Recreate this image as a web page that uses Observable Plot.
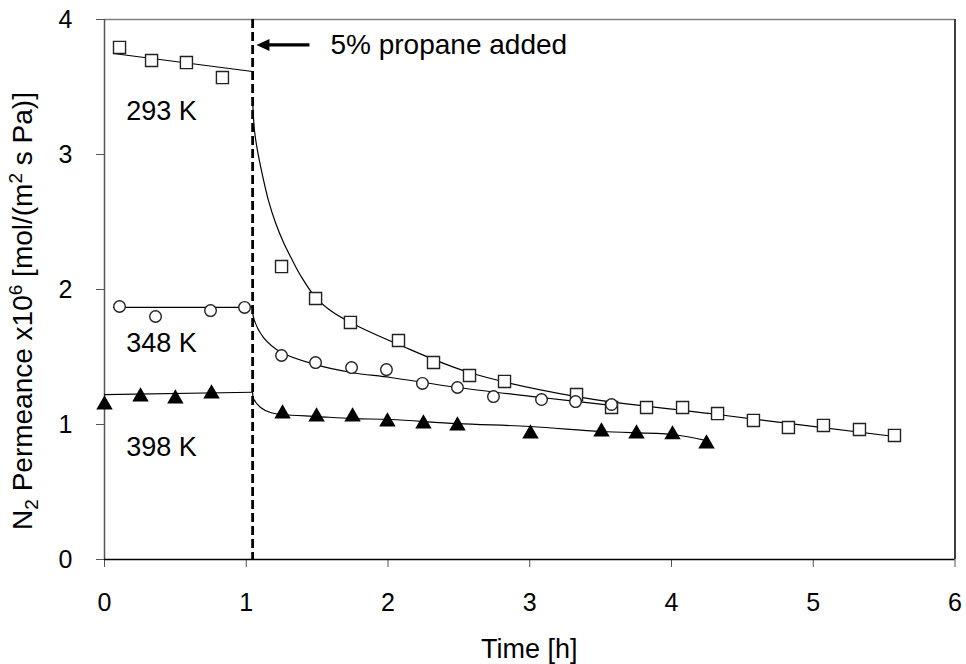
<!DOCTYPE html>
<html><head><meta charset="utf-8">
<script src="https://cdn.jsdelivr.net/npm/d3@7"></script>
<script src="https://cdn.jsdelivr.net/npm/@observablehq/plot@0.6"></script>
<style>
body{margin:0;background:#fff}
svg{font-family:"Liberation Sans",Arial,sans-serif}
</style>
</head><body><div id="chart"></div>
<script>
// ---- axis ticks ----
const xTicks = [0, 1, 2, 3, 4, 5, 6];
const yTicks = [0, 1, 2, 3, 4];
const propaneTime = 1.045;

// ---- measured points ----
const time293 = [0.106,0.332,0.578,0.832,1.249,1.489,1.735,2.074,2.321,2.575,2.822,3.330,3.577,3.824,4.078,4.325,4.578,4.825,5.072,5.326,5.573];
const perm293 = [3.793,3.696,3.681,3.570,2.170,1.933,1.756,1.622,1.459,1.363,1.319,1.222,1.126,1.126,1.126,1.081,1.030,0.978,0.993,0.963,0.919];

const time348 = [0.106,0.360,0.748,0.988,1.249,1.489,1.743,1.989,2.243,2.490,2.744,3.083,3.323,3.577];
const perm348 = [1.874,1.800,1.844,1.867,1.511,1.459,1.422,1.407,1.304,1.274,1.207,1.185,1.170,1.148];

const time398 = [0.000,0.254,0.500,0.755,1.256,1.496,1.750,1.996,2.250,2.490,3.005,3.506,3.753,4.007,4.247];
const perm398 = [1.147,1.206,1.191,1.228,1.080,1.058,1.058,1.021,1.006,0.991,0.932,0.947,0.932,0.925,0.858];

// ---- fitted trend lines ----
const fit293BeforeT = [0.063,1.044];
const fit293BeforeP = [3.748,3.615];
const fit293AfterT = [1.045,1.058,1.079,1.115,1.157,1.206,1.263,1.326,1.383,1.489,1.594,1.735,2.074,2.575,3.330,4.325,5.573];
const fit293AfterP = [3.400,3.178,3.030,2.844,2.659,2.496,2.348,2.215,2.104,1.941,1.844,1.756,1.593,1.385,1.207,1.074,0.911];

const fit348BeforeT = [0.063,1.044];
const fit348BeforeP = [1.867,1.867];
const fit348AfterT = [1.045,1.051,1.122,1.249,1.489,1.743,2.018,2.490,3.083,3.577];
const fit348AfterP = [1.881,1.793,1.644,1.533,1.444,1.385,1.348,1.274,1.200,1.141];

const fit398BeforeT = [0.000,1.044];
const fit398BeforeP = [1.222,1.239];
const fit398AfterT = [1.045,1.051,1.101,1.171,1.256,1.503,1.750,2.018,2.490,3.005,3.506,4.007,4.247];
const fit398AfterP = [1.237,1.193,1.126,1.089,1.074,1.059,1.044,1.037,1.007,0.985,0.948,0.926,0.881];

// ---- labels ----
const seriesLabels = [
  {text: "293 K", t: 0.153, p: 3.323},
  {text: "348 K", t: 0.153, p: 1.599},
  {text: "398 K", t: 0.153, p: 0.834}
];
const annotation = {text: "5% propane added", t: 1.594, p: 3.812, arrowFrom: 1.446, arrowTo: 1.072};
const xTitle = "Time [h]";

const zip = (T, P) => T.map((t, i) => ({t, p: P[i]}));

const leftArrowHead = {
  draw(ctx) {
    ctx.moveTo(0, 0);
    ctx.lineTo(13, -6);
    ctx.lineTo(13, 6);
    ctx.closePath();
  }
};

const lineOpts = {x: "t", y: "p", stroke: "#000", strokeWidth: 1.2, curve: "catmull-rom"};

const plot = Plot.plot({
  width: 966,
  height: 664,
  marginLeft: 104,
  marginRight: 11.5,
  marginTop: 19,
  marginBottom: 105,
  x: {domain: [0, 6]},
  y: {domain: [0, 4]},
  style: {fontFamily: "Liberation Sans, Arial, sans-serif", fontSize: "25px", color: "#000", background: "#fff", overflow: "visible"},
  marks: [
    Plot.ruleY([4], {stroke: "#808080", strokeWidth: 1.5}),
    Plot.ruleX([6], {stroke: "#000", strokeWidth: 1.5}),
    Plot.axisX({ticks: xTicks, tickSize: 8, tickPadding: 26, tickFormat: d => String(d), label: null, stroke: "#555", fontSize: 25}),
    Plot.axisY({ticks: yTicks, tickSize: 8, tickPadding: 24, tickFormat: d => String(d), label: null, stroke: "#555", fontSize: 25}),
    Plot.ruleX([0], {stroke: "#555", strokeWidth: 1.5}),
    Plot.ruleY([0], {stroke: "#000", strokeWidth: 1.5}),
    // propane line
    Plot.ruleX([propaneTime], {stroke: "#000", strokeWidth: 2.8, strokeDasharray: "9,4"}),
    // trend lines
    Plot.line(zip(fit293BeforeT, fit293BeforeP), lineOpts),
    Plot.line(zip(fit293AfterT, fit293AfterP), lineOpts),
    Plot.line(zip(fit348BeforeT, fit348BeforeP), lineOpts),
    Plot.line(zip(fit348AfterT, fit348AfterP), lineOpts),
    Plot.line(zip(fit398BeforeT, fit398BeforeP), lineOpts),
    Plot.line(zip(fit398AfterT, fit398AfterP), lineOpts),
    // markers
    Plot.dot(zip(time293, perm293), {x: "t", y: "p", symbol: "square", r: 6.8, stroke: "#222", strokeWidth: 1.4, fill: "#fff"}),
    Plot.dot(zip(time348, perm348), {x: "t", y: "p", symbol: "circle", r: 5.8, stroke: "#222", strokeWidth: 1.4, fill: "#fff"}),
    Plot.dot(zip(time398, perm398), {x: "t", y: "p", symbol: "triangle", r: 6.1, fill: "#000", stroke: "none"}),
    // series labels
    Plot.text(seriesLabels, {x: "t", y: "p", text: "text", textAnchor: "start", fontSize: 27, fill: "#000"}),
    // annotation
    Plot.link([annotation], {x1: "arrowFrom", x2: d => d.arrowTo + 0.07, y1: "p", y2: "p", stroke: "#000", strokeWidth: 3.2}),
    Plot.dot([annotation], {x: "arrowTo", y: "p", symbol: leftArrowHead, fill: "#000", stroke: "none", r: 5}),
    Plot.text([annotation], {x: "t", y: "p", text: "text", textAnchor: "start", fontSize: 28, fill: "#000"})
  ]
});

document.getElementById("chart").appendChild(plot);

const svg = d3.select(plot);
const xs = plot.scale("x");
// x axis title
svg.append("text")
  .attr("x", xs.apply(3))
  .attr("y", 658)
  .attr("text-anchor", "middle")
  .attr("font-size", 27)
  .attr("fill", "#000")
  .text(xTitle);

// y axis title with sub/superscripts
const yt = svg.append("text")
  .attr("transform", "translate(32," + ((19 + 559) / 2 + 22) + ") rotate(-90)")
  .attr("text-anchor", "middle")
  .attr("font-size", 28)
  .attr("fill", "#000");
yt.append("tspan").text("N");
yt.append("tspan").attr("font-size", 19).attr("dy", 6).text("2");
yt.append("tspan").attr("dy", -6).text(" Permeance x10");
yt.append("tspan").attr("font-size", 19).attr("dy", -10).text("6");
yt.append("tspan").attr("dy", 10).text(" [mol/(m");
yt.append("tspan").attr("font-size", 19).attr("dy", -10).text("2");
yt.append("tspan").attr("dy", 10).text(" s Pa)]");
</script>
</body></html>
